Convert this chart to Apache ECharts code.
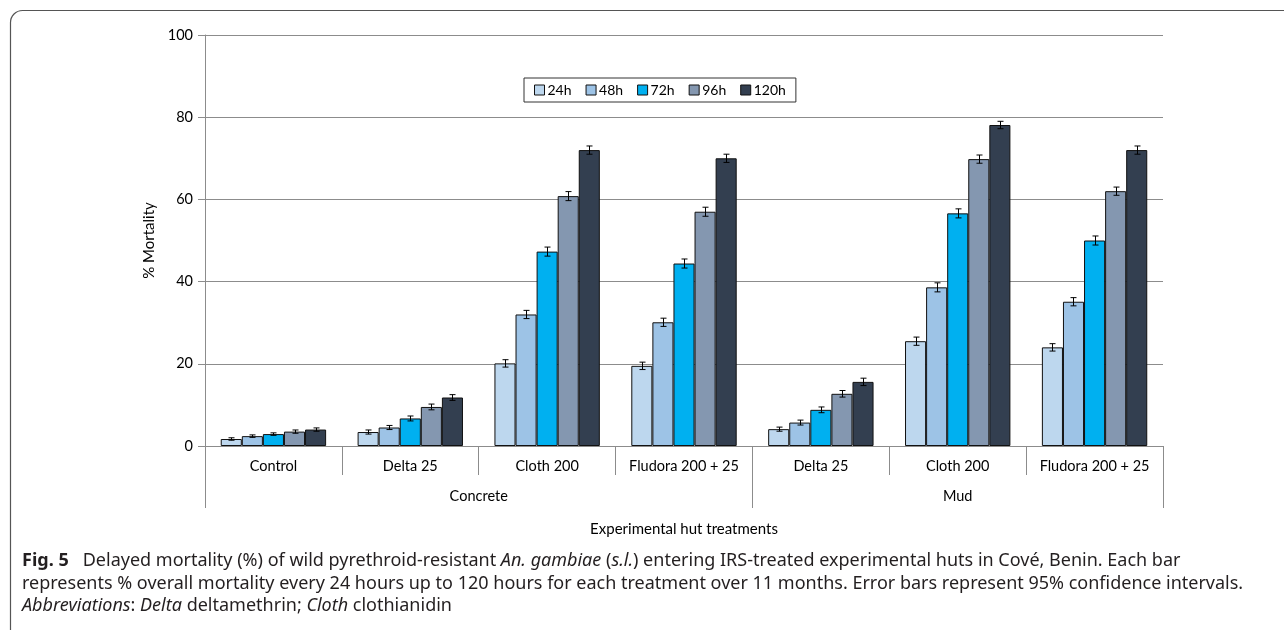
<!DOCTYPE html>
<html>
<head>
<meta charset="utf-8">
<script src="https://cdn.jsdelivr.net/npm/echarts@6/dist/echarts.min.js"></script>
<style>html,body{margin:0;padding:0;background:#fff}#c{width:1284px;height:630px}</style>
</head>
<body>
<div id="c"></div>
<script>
// treatments along the x axis, grouped by hut wall type
const treatments = ['Control','Delta 25','Cloth 200','Fludora 200 + 25','Delta 25','Cloth 200','Fludora 200 + 25'];
const groups = ['Concrete','Mud'];
const groupSizes = [4,3];
const hours = ['24h','48h','72h','96h','120h'];
const colors = ['#bdd7ee','#9dc3e6','#00b0f0','#8497b0','#333f50'];

// % mortality per hour
const m24  = [1.7, 3.4, 20.1, 19.5, 4.1, 25.5, 24.0];
const m48  = [2.4, 4.5, 32.0, 30.1, 5.7, 38.6, 35.1];
const m72  = [2.9, 6.7, 47.3, 44.4, 8.8, 56.6, 50.0];
const m96  = [3.5, 9.5, 60.8, 57.0, 12.7, 69.8, 62.0];
const m120 = [4.0, 11.8, 72.0, 70.0, 15.6, 78.1, 72.0];
// 95% CI half widths
const e24  = [0.3, 0.5, 0.9, 0.9, 0.5, 1.0, 0.9];
const e48  = [0.3, 0.5, 1.0, 1.0, 0.6, 1.1, 1.0];
const e72  = [0.3, 0.6, 1.1, 1.1, 0.7, 1.1, 1.1];
const e96  = [0.4, 0.7, 1.1, 1.1, 0.8, 1.0, 1.0];
const e120 = [0.4, 0.7, 1.0, 1.0, 0.9, 0.9, 1.0];
const yTicks = [0,20,40,60,80,100];

const vals = [m24,m48,m72,m96,m120];
const errs = [e24,e48,e72,e96,e120];
const FONT = 'Lato';
const CAP = '"Noto Sans"';
const GAP = 0.23;

// group boundaries / centres on a 0..n value scale
const bounds = [0]; groupSizes.forEach(s=>bounds.push(bounds[bounds.length-1]+s));
const centres = groupSizes.map((s,i)=>bounds[i]+s/2);

const series = [];
hours.forEach((h,k)=>{
  series.push({name:h,type:'bar',data:vals[k],barGap:'0%',barCategoryGap:(GAP*100)+'%',
    itemStyle:{color:colors[k],borderColor:'#111',borderWidth:1}});
});
hours.forEach((h,k)=>{
  series.push({name:'err'+h,type:'custom',z:5,
    data:vals[k].map((v,i)=>[i,v-errs[k][i],v+errs[k][i]]),
    encode:{x:0,y:[1,2]},
    renderItem:(params,api)=>{
      const lo=api.coord([api.value(0),api.value(1)]);
      const hi=api.coord([api.value(0),api.value(2)]);
      const bw=api.size([1,0])[0]*(1-GAP)/5;
      const x=Math.round(lo[0]+(k-2)*bw)+0.5;
      const st={stroke:'#000',lineWidth:1};
      return {type:'group',children:[
        {type:'line',shape:{x1:x,y1:lo[1],x2:x,y2:hi[1]},style:st},
        {type:'line',shape:{x1:x-3,y1:lo[1],x2:x+3,y2:lo[1]},style:st},
        {type:'line',shape:{x1:x-3,y1:hi[1],x2:x+3,y2:hi[1]},style:st}
      ]};
    }});
});

const chart = echarts.init(document.getElementById('c'));
chart.setOption({
  animation:false,
  textStyle:{fontFamily:FONT},
  grid:{left:205,right:121,top:35,bottom:184},
  legend:{data:hours,left:524,top:78,orient:'horizontal',
    borderColor:'#333',borderWidth:1,padding:[5,10,5,10],itemGap:14,
    itemWidth:10,itemHeight:10,icon:'rect',
    itemStyle:{borderColor:'#111',borderWidth:1},
    textStyle:{fontFamily:FONT,fontSize:14,color:'#000',padding:[0,0,0,-2]}},
  xAxis:[{
    type:'category',data:treatments,
    axisLine:{lineStyle:{color:'#8c8c8c'}},
    axisTick:{show:true,interval:0,length:29,lineStyle:{color:'#8c8c8c'}},
    axisLabel:{interval:0,margin:13,fontSize:14.5,color:'#000',fontFamily:FONT},
    splitLine:{show:false}
  },{
    type:'value',min:0,max:treatments.length,position:'bottom',
    axisLine:{show:false},splitLine:{show:false},
    axisTick:{show:true,customValues:bounds,length:62,lineStyle:{color:'#8c8c8c'}},
    axisLabel:{customValues:centres,margin:43,fontSize:14.5,color:'#000',fontFamily:FONT,
      formatter:v=>groups[centres.indexOf(v)]||''},
    name:'Experimental hut treatments',nameLocation:'middle',nameGap:76,
    nameTextStyle:{fontSize:15,color:'#000',fontFamily:FONT}
  }],
  yAxis:{
    type:'value',min:yTicks[0],max:yTicks[yTicks.length-1],interval:20,
    axisLine:{show:true,lineStyle:{color:'#8c8c8c'}},
    axisTick:{show:true,length:7,lineStyle:{color:'#8c8c8c'}},
    axisLabel:{margin:12,fontSize:14.5,color:'#000',fontFamily:FONT},
    splitLine:{lineStyle:{color:'#8c8c8c'}},
    name:'% Mortality',nameLocation:'middle',nameGap:46,
    nameTextStyle:{fontSize:15,color:'#000',fontFamily:FONT}
  },
  series:series,
  graphic:[
    {type:'rect',shape:{x:10.5,y:10.5,width:1300,height:700,r:12},
      style:{fill:'none',stroke:'#555',lineWidth:1.2},silent:true},
    {type:'text',left:22,top:550,style:{
      text:'{b|Fig. 5}   Delayed mortality (%) of wild pyrethroid-resistant {i|An. gambiae} ({i|s.l.}) entering IRS-treated experimental huts in Cové, Benin. Each bar\n'+
           'represents % overall mortality every 24 hours up to 120 hours for each treatment over 11 months. Error bars represent 95% confidence intervals.\n'+
           '{i|Abbreviations}: {i|Delta} deltamethrin; {i|Cloth} clothianidin',
      font:'18px '+CAP,fill:'#231f20',lineHeight:22.5,
      rich:{b:{fontWeight:'bold',fontSize:18,fontFamily:CAP,fill:'#231f20'},
            i:{fontStyle:'italic',fontSize:18,fontFamily:CAP,fill:'#231f20'}}}}
  ]
});
</script>
</body>
</html>
